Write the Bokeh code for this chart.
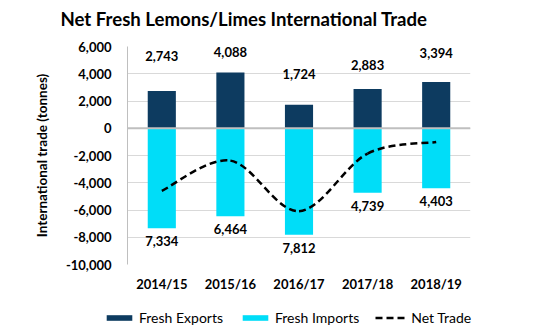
from bokeh.plotting import figure
from bokeh.layouts import column, row
from bokeh.core.properties import value
from bokeh.models import (ColumnDataSource, LabelSet, Label, Legend, LegendItem,
                          FixedTicker, NumeralTickFormatter, Span)
from bokeh.embed import file_html
from bokeh.resources import INLINE

# ---- data ----
title = "Net Fresh Lemons/Limes International Trade"
years = ["2014/15", "2015/16", "2016/17", "2017/18", "2018/19"]
exports = [2743, 4088, 1724, 2883, 3394]
imports = [7334, 6464, 7812, 4739, 4403]
net_trade = [e - i for e, i in zip(exports, imports)]
export_label_lift = [35, 21, 31, 24, 29]   # px above bar top (label placement)

FONT = "Lato"
NAVY = "#0D3B60"
CYAN = "#00DDF8"

xs = list(range(1, len(years) + 1))

# ---- title strip (frame = whole strip, 1 data unit = 1 px) ----
tf = figure(width=550, height=36, output_backend="svg", toolbar_location=None,
            x_range=(0, 550), y_range=(0, 36), min_border=0,
            x_axis_type=None, y_axis_type=None, title=None)
tf.outline_line_color = None
tf.grid.grid_line_color = None
tf.add_layout(Label(x=60, y=18, text=title, text_font=FONT, text_font_style="bold",
                    text_font_size="18.6px", text_baseline="middle",
                    text_align="left", text_color="black"))

# ---- main chart ----
p = figure(width=550, height=264, output_backend="svg", toolbar_location=None,
           x_range=(0.5, len(years) + 0.5), y_range=(-10000, 6000), title=None,
           min_border_left=127, min_border_right=80, min_border_top=10,
           min_border_bottom=36)
p.outline_line_color = None
p.background_fill_color = "white"
p.border_fill_color = "white"

src = ColumnDataSource(dict(
    x=xs, exp=exports, imp=[-v for v in imports],
    exp_txt=[f"{v:,}" for v in exports], imp_txt=[f"{v:,}" for v in imports],
    lift=export_label_lift))

p.vbar(x="x", top="exp", bottom=0, width=0.41, source=src,
       fill_color=NAVY, line_color=None)
p.vbar(x="x", top=0, bottom="imp", width=0.41, source=src,
       fill_color=CYAN, line_color=None)

# smoothed net-trade line (Catmull-Rom style bezier, like a spreadsheet smoothed line)
n = len(xs)
def pt(i):
    i = max(0, min(n - 1, i))
    return xs[i], net_trade[i]
bz = dict(x0=[], y0=[], x1=[], y1=[], cx0=[], cy0=[], cx1=[], cy1=[])
for i in range(n - 1):
    p0, p1, p2, p3 = pt(i - 1), pt(i), pt(i + 1), pt(i + 2)
    bz["x0"].append(p1[0]); bz["y0"].append(p1[1])
    bz["x1"].append(p2[0]); bz["y1"].append(p2[1])
    bz["cx0"].append(p1[0] + (p2[0] - p0[0]) / 6); bz["cy0"].append(p1[1] + (p2[1] - p0[1]) / 6)
    bz["cx1"].append(p2[0] - (p3[0] - p1[0]) / 6); bz["cy1"].append(p2[1] - (p3[1] - p1[1]) / 6)
bz_src = ColumnDataSource(bz)
p.bezier(x0="x0", y0="y0", x1="x1", y1="y1", cx0="cx0", cy0="cy0", cx1="cx1", cy1="cy1",
         source=bz_src, line_color="black", line_width=2.5, line_dash="7 4")

# zero line
p.add_layout(Span(location=0, dimension="width", line_color="#BFBFBF", line_width=2))

# labels
p.add_layout(LabelSet(x="x", y="exp", text="exp_txt", source=src, y_offset="lift",
                      text_align="center", text_baseline="middle",
                      text_font=value(FONT), text_font_style="bold",
                      text_font_size="13px", text_color="black"))
p.add_layout(LabelSet(x="x", y="imp", text="imp_txt", source=src, y_offset=-13,
                      text_align="center", text_baseline="middle",
                      text_font=value(FONT), text_font_style="bold",
                      text_font_size="13px", text_color="black"))

# axes
p.xaxis.ticker = FixedTicker(ticks=xs)
p.xaxis.major_label_overrides = {x: y for x, y in zip(xs, years)}
p.xaxis.axis_line_color = None
p.xaxis.major_tick_line_color = None
p.xaxis.minor_tick_line_color = None
p.xaxis.major_tick_out = 0
p.xaxis.major_tick_in = 0
p.xaxis.major_label_standoff = 11
p.xaxis.major_label_text_font = FONT
p.xaxis.major_label_text_font_style = "bold"
p.xaxis.major_label_text_font_size = "13px"
p.xaxis.major_label_text_color = "black"

p.yaxis.ticker = FixedTicker(ticks=list(range(-10000, 6001, 2000)))
p.yaxis.formatter = NumeralTickFormatter(format="0,0")
p.yaxis.axis_line_color = "#BFBFBF"
p.yaxis.major_tick_line_color = None
p.yaxis.minor_tick_line_color = None
p.yaxis.major_tick_out = 0
p.yaxis.major_tick_in = 0
p.yaxis.major_label_standoff = 16
p.yaxis.major_label_text_font = FONT
p.yaxis.major_label_text_font_style = "bold"
p.yaxis.major_label_text_font_size = "13px"
p.yaxis.major_label_text_color = "black"
p.yaxis.axis_label = "International trade (tonnes)"
p.yaxis.axis_label_text_font = FONT
p.yaxis.axis_label_text_font_style = "bold"
p.yaxis.axis_label_text_font_size = "13.5px"
p.yaxis.axis_label_text_color = "black"
p.yaxis.axis_label_standoff = 13

p.xgrid.grid_line_color = None
p.ygrid.grid_line_color = "#D9D9D9"
p.ygrid.ticker = FixedTicker(ticks=list(range(-10000, 6001, 2000)))

# ---- legend strip (separate figure under the chart; its own ranges keep the
# swatch renderers out of view so only the legend shows) ----
lg = figure(width=550, height=36, output_backend="svg", toolbar_location=None,
            x_range=(0.5, len(years) + 0.5), y_range=(20000, 30000), title=None,
            min_border=0, x_axis_type=None, y_axis_type=None)
lg.outline_line_color = None
lg.grid.grid_line_color = None
l_exp = lg.vbar(x="x", top="exp", bottom=0, width=0.41, source=src,
                fill_color=NAVY, line_color=None)
l_imp = lg.vbar(x="x", top=0, bottom="imp", width=0.41, source=src,
                fill_color=CYAN, line_color=None)
l_net = lg.bezier(x0="x0", y0="y0", x1="x1", y1="y1", cx0="cx0", cy0="cy0",
                  cx1="cx1", cy1="cy1", source=bz_src,
                  line_color="black", line_width=2.5, line_dash="7 4")
legend = Legend(items=[LegendItem(label="Fresh Exports", renderers=[l_exp]),
                       LegendItem(label="Fresh Imports", renderers=[l_imp]),
                       LegendItem(label="Net Trade", renderers=[l_net])],
                orientation="horizontal", location=(103, 10),
                glyph_width=32, glyph_height=7, label_standoff=4, spacing=16,
                padding=0, margin=0, border_line_color=None,
                background_fill_alpha=0,
                label_text_font=FONT, label_text_font_size="14px",
                label_text_color="black")
lg.add_layout(legend)

open("out.html", "w").write(file_html(column(row(tf), p, row(lg), spacing=0), INLINE))
